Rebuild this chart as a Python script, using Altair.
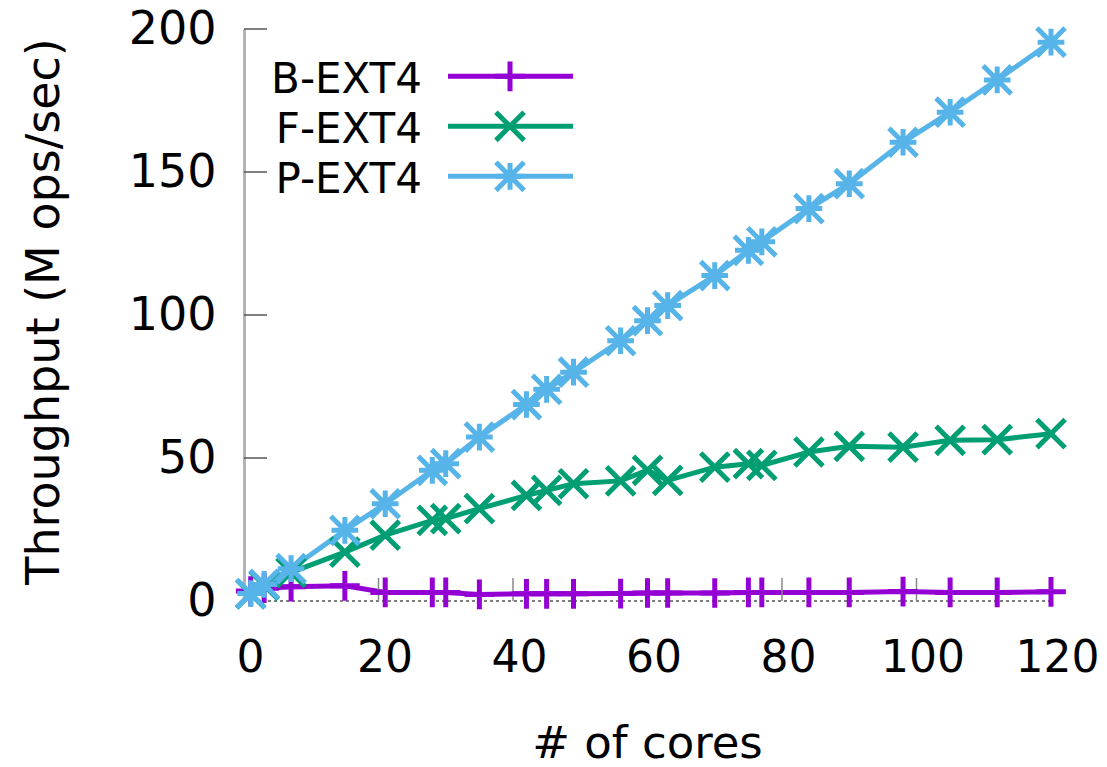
import altair as alt
import pandas as pd

# ---------------- data ----------------
series_names = ["B-EXT4", "F-EXT4", "P-EXT4"]
series_colors = ["#9400D3", "#009E73", "#56B4E9"]
cores = [1, 3, 7, 15, 21, 28, 30, 35, 42, 45, 49, 56, 60, 63, 70, 75, 77, 84, 90, 98, 105, 112, 120]
b_ext4 = [3.5, 4.5, 5.0, 5.3, 3.0, 3.0, 3.0, 2.3, 2.5, 2.5, 2.5, 2.6, 2.8, 2.8, 2.8, 3.0, 3.0, 3.0, 3.0, 3.3, 3.0, 3.0, 3.2]
f_ext4 = [2.5, 5.5, 10.0, 17.1, 23.0, 28.2, 28.8, 32.3, 36.9, 38.7, 41.0, 42.0, 45.7, 42.2, 46.8, 48.0, 47.4, 52.1, 54.1, 53.8, 56.2, 56.4, 58.5]
p_ext4 = [2.6, 5.8, 11.3, 24.7, 34.0, 45.7, 48.0, 57.3, 68.7, 74.0, 80.0, 91.0, 98.0, 103.3, 113.8, 122.6, 125.6, 137.2, 145.9, 160.4, 170.9, 182.2, 195.4]
x_ticks = [0, 20, 40, 60, 80, 100, 120]
y_ticks = [0, 50, 100, 150, 200]

rows = []
for name, vals in zip(series_names, [b_ext4, f_ext4, p_ext4]):
    for c, v in zip(cores, vals):
        rows.append({"series": name, "cores": c, "throughput": v})
df = pd.DataFrame(rows)

# ---------------- styling ----------------
W, H = 807, 572
FONT = "DejaVu Sans"
plus_path = "M-1,0L1,0M0,-1L0,1"
cross_path = "M-0.95,-0.95L0.95,0.95M-0.95,0.95L0.95,-0.95"
star_path = "M-0.9,0L0.9,0M0,-0.9L0,0.9M-0.95,-0.95L0.95,0.95M-0.95,0.95L0.95,-0.95"

x_scale = alt.Scale(domain=[0, 120], nice=False, zero=False)
y_scale = alt.Scale(domain=[0, 200], nice=False)
color_scale = alt.Scale(domain=series_names, range=series_colors)
shape_scale = alt.Scale(domain=series_names, range=[plus_path, cross_path, star_path])

x_axis = alt.Axis(
    title="# of cores", values=x_ticks, domain=False, ticks=False, grid=False,
    labelFont=FONT, labelFontSize=44, labelColor="black", labelPadding=35, labelOffset=6,
    labelFlush=False, labelOverlap=False,
    titleFont=FONT, titleFontSize=45, titleFontWeight="normal", titleColor="black",
    titleBaseline="alphabetic", titleY=156, titleX=403, titleAlign="center",
)
y_axis = alt.Axis(
    title="Throughput (M ops/sec)", values=y_ticks, domain=True, domainColor="#b4b4b4",
    domainWidth=3, ticks=False, grid=False,
    labelFont=FONT, labelFontSize=46, labelColor="black", labelPadding=28,
    labelFlush=False, labelOverlap=False,
    titleFont=FONT, titleFontSize=46, titleFontWeight="normal", titleColor="black",
    titleAngle=270, titleBaseline="alphabetic", titleX=-186, titleY=282, titleAlign="center",
)


def X(field):
    return alt.X(field, scale=x_scale, axis=x_axis)


def Y(field):
    return alt.Y(field, scale=y_scale, axis=y_axis)


base = alt.Chart(df)

lines = base.mark_line(strokeWidth=5).encode(
    x=X("cores:Q"),
    y=Y("throughput:Q"),
    color=alt.Color("series:N", scale=color_scale, legend=None),
    detail="series:N",
    order="cores:Q",
)

points = base.mark_point(filled=False, strokeWidth=5, size=880, opacity=1).encode(
    x=X("cores:Q"),
    y=Y("throughput:Q"),
    color=alt.Color("series:N", scale=color_scale, legend=None),
    shape=alt.Shape("series:N", scale=shape_scale, legend=None),
)

zero_line = alt.Chart(pd.DataFrame({"throughput": [0]})).mark_rule(
    color="#555555", strokeWidth=1.5, strokeDash=[3, 3]
).encode(
    y=Y("throughput:Q"),
    x=alt.value(0), x2=alt.value(W),
)

xtick_rules = alt.Chart(pd.DataFrame({"cores": x_ticks[1:]})).mark_rule(
    color="#888888", strokeWidth=1.5
).encode(
    x=X("cores:Q"),
    y=alt.value(H - 23), y2=alt.value(H),
)

ytick_rules = alt.Chart(pd.DataFrame({"throughput": y_ticks[1:]})).mark_rule(
    color="#555555", strokeWidth=1.5
).encode(
    y=Y("throughput:Q"),
    x=alt.value(0), x2=alt.value(23),
)

main = alt.layer(lines, zero_line, xtick_rules, ytick_rules, points)

# ---------------- legend (label left, sample right) ----------------
leg_df = pd.DataFrame({"series": series_names})
leg_y = alt.Y("series:N", scale=alt.Scale(type="point", domain=series_names,
                                          range=[47.3, 147.3], padding=0), axis=None)
leg_base = alt.Chart(leg_df)
leg_text = leg_base.mark_text(align="right", baseline="middle", font=FONT,
                              fontSize=42, color="black", dy=4).encode(
    x=alt.value(178), y=leg_y, text="series:N")
leg_rule = leg_base.mark_rule(strokeWidth=5).encode(
    x=alt.value(204), x2=alt.value(329), y=leg_y,
    color=alt.Color("series:N", scale=color_scale, legend=None))
leg_pts = leg_base.mark_point(filled=False, strokeWidth=5, size=880, opacity=1).encode(
    x=alt.value(266), y=leg_y,
    color=alt.Color("series:N", scale=color_scale, legend=None),
    shape=alt.Shape("series:N", scale=shape_scale, legend=None))
legend = alt.layer(leg_rule, leg_pts, leg_text)

chart = alt.layer(main, legend).resolve_scale(y="independent").properties(
    width=W, height=H, autosize="none",
    padding={"left": 244, "top": 29, "right": 56, "bottom": 166},
    background="white",
).configure_view(stroke=None)

chart.save("out.html", embed_options={"renderer": "svg", "actions": False})
